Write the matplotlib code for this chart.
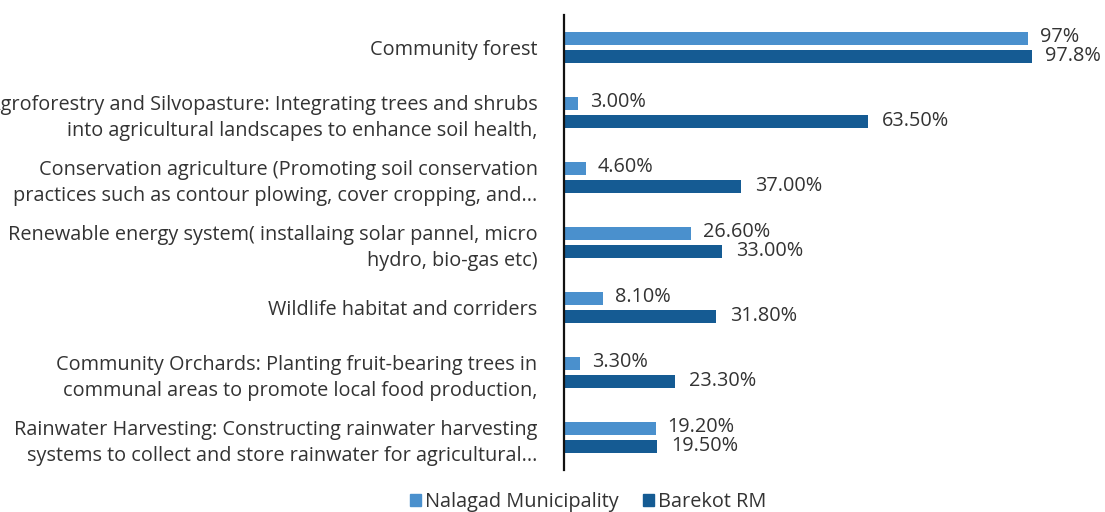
import numpy as np
import matplotlib.pyplot as plt
from matplotlib.patches import Patch

plt.rcParams['font.family'] = ['Open Sans', 'DejaVu Sans']

# kategoriler ve yüzdeler
categories = [
    "Community forest",
    "Agroforestry and Silvopasture: Integrating trees and shrubs\ninto agricultural landscapes to enhance soil health,",
    "Conservation agriculture (Promoting soil conservation\npractices such as contour plowing, cover cropping, and...",
    "Renewable energy system( installaing solar pannel, micro\nhydro, bio-gas etc)",
    "Wildlife habitat and corriders",
    "Community Orchards: Planting fruit-bearing trees in\ncommunal areas to promote local food production,",
    "Rainwater Harvesting: Constructing rainwater harvesting\nsystems to collect and store rainwater for agricultural...",
]
nalagad = [97, 3.00, 4.60, 26.60, 8.10, 3.30, 19.20]
barekot = [97.8, 63.50, 37.00, 33.00, 31.80, 23.30, 19.50]
# etiketlerdeki ondalık basamak sayısı
nalagad_dec = [0, 2, 2, 2, 2, 2, 2]
barekot_dec = [1, 2, 2, 2, 2, 2, 2]

renk1 = "#4A90CD"
renk2 = "#155B93"
yazi = "#333333"
fs = 14.3

fig = plt.figure(figsize=(11.05, 5.12), dpi=100)
ax = fig.add_axes([0.5104, 0.082, 0.4543, 0.8887])

y = np.arange(len(categories))
h = 0.2
off = 0.135
ax.barh(y - off, nalagad, height=h, color=renk1)
ax.barh(y + off, barekot, height=h, color=renk2)

for i in range(len(categories)):
    ax.annotate(f"{nalagad[i]:.{nalagad_dec[i]}f}%", (nalagad[i], y[i] - off),
                xytext=(8.5, 1), textcoords="offset points", va="center",
                fontsize=fs, color=yazi, annotation_clip=False)
    ax.annotate(f"{barekot[i]:.{barekot_dec[i]}f}%", (barekot[i], y[i] + off),
                xytext=(10, 0), textcoords="offset points", va="center",
                fontsize=fs, color=yazi, annotation_clip=False)

ax.set_xlim(0, 105)
ax.set_ylim(len(categories) - 0.5, -0.5)
ax.set_yticks(y)
ax.set_yticklabels(categories, fontsize=fs, color=yazi, linespacing=1.4)
ax.tick_params(axis="y", length=0, pad=19)
ax.set_xticks([])
for s in ["top", "right", "bottom"]:
    ax.spines[s].set_visible(False)
ax.spines["left"].set_linewidth(1.6)
ax.spines["left"].set_color("#111111")

handles = [Patch(color=renk1, label="Nalagad Municipality"),
           Patch(color=renk2, label="Barekot RM")]
fig.legend(handles=handles, loc="center", bbox_to_anchor=(588 / 1105, 1 - 502 / 512),
           ncol=2, frameon=False, fontsize=fs, handlelength=0.55, handleheight=0.55,
           handletextpad=0.2, columnspacing=1.2, labelcolor=yazi)

fig.savefig("out.png", dpi=100)
